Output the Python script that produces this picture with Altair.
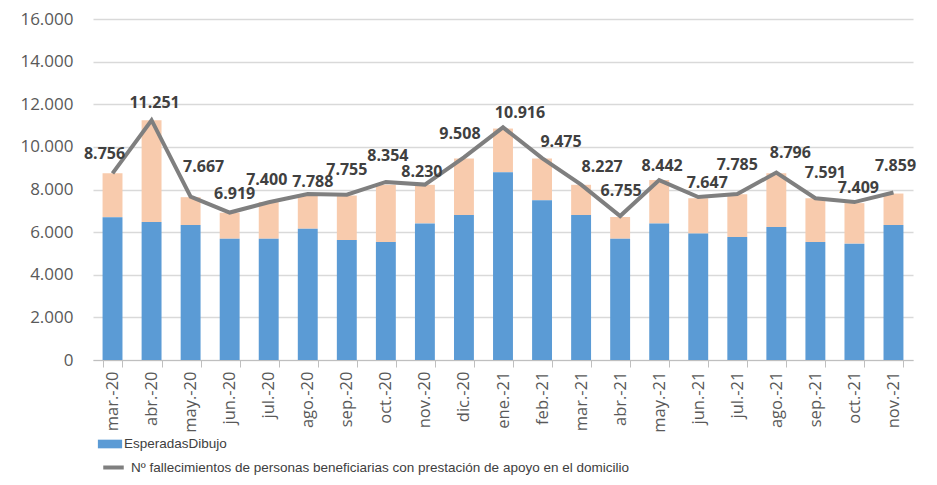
import altair as alt
import pandas as pd

meses = ["mar.-20", "abr.-20", "may.-20", "jun.-20", "jul.-20", "ago.-20", "sep.-20",
         "oct.-20", "nov.-20", "dic.-20", "ene.-21", "feb.-21", "mar.-21", "abr.-21",
         "may.-21", "jun.-21", "jul.-21", "ago.-21", "sep.-21", "oct.-21", "nov.-21"]
# Defunciones esperadas (tramo azul)
esperadas = [6700, 6470, 6330, 5690, 5690, 6160, 5630, 5540, 6410, 6800, 8810,
             7500, 6800, 5690, 6410, 5930, 5770, 6240, 5540, 5460, 6330]
# Límite superior (tope del tramo salmón)
superior = [8760, 11250, 7640, 6910, 7410, 7770, 7720, 8220, 8220, 9460, 10860,
            9460, 8220, 6710, 8440, 7590, 7780, 8760, 7590, 7360, 7810]
# Nº fallecimientos (línea)
fallecimientos = [8756, 11251, 7667, 6919, 7400, 7788, 7755, 8354, 8230, 9508, 10916,
                  9475, 8227, 6755, 8442, 7647, 7785, 8796, 7591, 7409, 7859]

# label placement (pixels, relative to the point)
label_dx = [-8, 3, 13, 5, -2, 5, 0, 2, -3, -4, 17, 19, 21, 1, 3, 9, 0, 14, 10, 4, 2]
label_dy = [-19, -17, -30, -19, -22, -12, -25, -26, -13, -23, -14, -16, -18, -25, -14, -14, -29, -20, -25, -14, -27]

serie_bar = "EsperadasDibujo"
serie_line = "Nº fallecimientos de personas beneficiarias con prestación de apoyo en el domicilio"

narrow = "Liberation Sans Narrow, Liberation Sans, sans-serif"

df = pd.DataFrame({
    "mes": meses,
    "esperadas": esperadas,
    "superior": superior,
    "fallecimientos": fallecimientos,
    "txt": [f"{v:,}".replace(",", ".") for v in fallecimientos],
    "serie_bar": serie_bar,
    "serie_line": serie_line,
})

x = alt.X("mes:N", sort=meses, title=None,
          scale=alt.Scale(paddingInner=0.49, paddingOuter=0.245),
          axis=alt.Axis(labelAngle=-90, labelFontSize=16.5, labelColor="#595959",
                        labelFont="Open Sans", domainColor="#bfbfbf", tickColor="#bfbfbf",
                        tickBand="extent", tickSize=7, labelPadding=4, grid=False))

y_axis = alt.Axis(values=list(range(0, 16001, 2000)), labelFontSize=17, labelColor="#595959",
                  labelFont="Open Sans", ticks=False, tickSize=0, domain=False,
                  labelPadding=20, gridColor="#d9d9d9", gridWidth=1.3,
                  minExtent=85, maxExtent=85,
                  labelExpr="replace(format(datum.value, ','), ',', '.')")

base = alt.Chart(df)

peach = base.mark_bar(color="#f8cbad").encode(
    x=x,
    y=alt.Y("esperadas:Q", scale=alt.Scale(domain=[0, 16000]), axis=y_axis, title=None),
    y2="superior:Q",
)

blue = base.mark_bar().encode(
    x=x,
    y=alt.Y("esperadas:Q"),
    color=alt.Color("serie_bar:N", scale=alt.Scale(domain=[serie_bar], range=["#5b9bd5"]),
                    legend=alt.Legend(title=None, orient="none", legendX=8, legendY=416,
                                      symbolType="M-1.4,-0.5H1.4V0.5H-1.4Z", symbolSize=300,
                                      symbolStrokeWidth=0, labelFontSize=13.5,
                                      labelFont=narrow, labelLimit=900,
                                      labelColor="#404040", labelOffset=5)),
)

line = base.mark_line(strokeWidth=4, strokeJoin="miter").encode(
    x=x,
    y="fallecimientos:Q",
    stroke=alt.Stroke("serie_line:N", scale=alt.Scale(domain=[serie_line], range=["#7f7f7f"]),
                      legend=alt.Legend(title=None, orient="none", legendX=8, legendY=436,
                                        symbolType="stroke", symbolSize=420, symbolStrokeWidth=4,
                                        labelFontSize=13.5, labelLimit=900,
                                        labelFont=narrow,
                                        labelColor="#404040", labelOffset=5)),
)

label_layers = []
for m, ddx, ddy in zip(meses, label_dx, label_dy):
    label_layers.append(
        base.transform_filter(alt.datum.mes == m)
        .mark_text(fontSize=16, fontWeight="bold", font="Open Sans", color="#404040",
                   dx=ddx, dy=ddy)
        .encode(x=x, y="fallecimientos:Q", text="txt:N")
    )

chart = alt.layer(peach, blue, line, *label_layers).resolve_scale(color="independent").properties(
    width=820, height=341,
    padding={"left": 0, "top": 2, "right": 8, "bottom": 0},
).configure_view(stroke=None)

chart.save("out.html", embed_options={"renderer": "svg", "actions": False})
